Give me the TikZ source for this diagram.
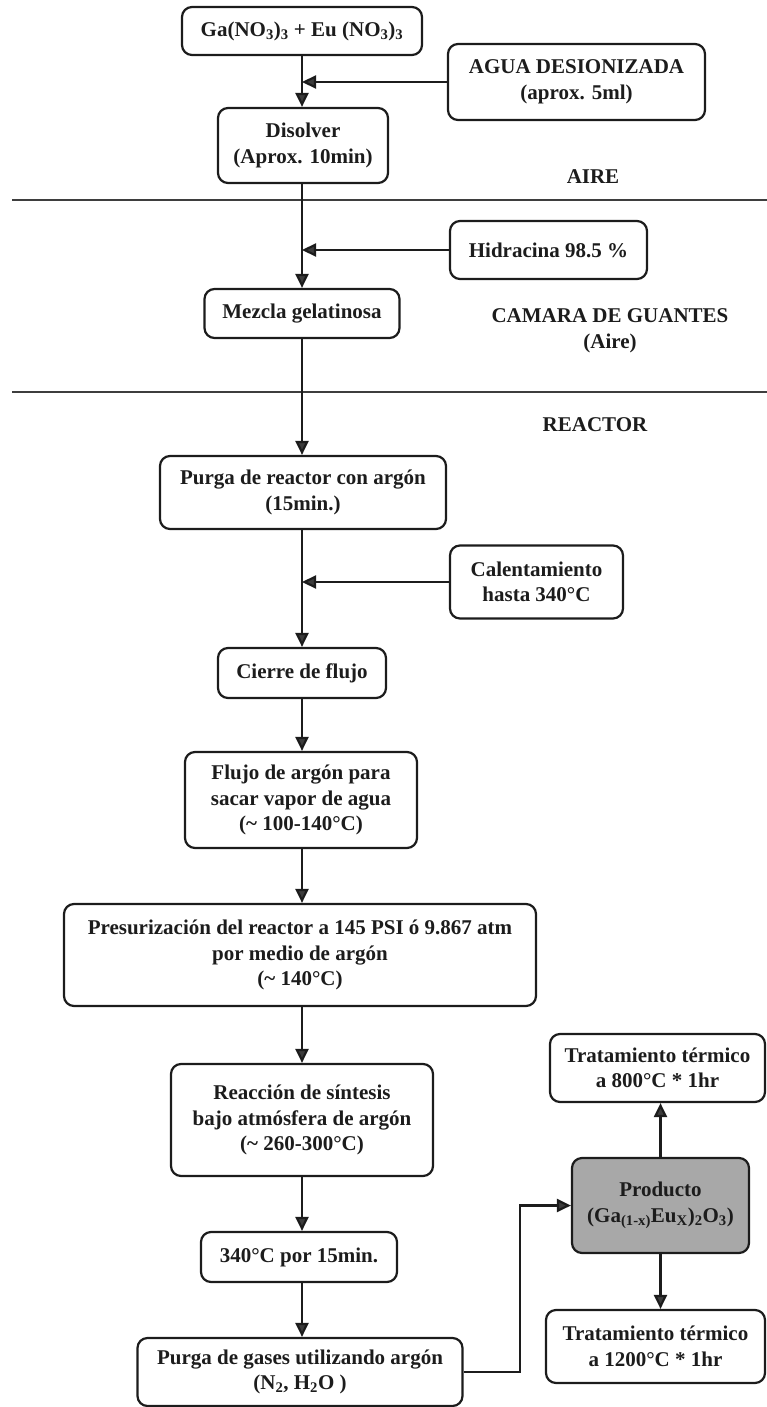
\documentclass[tikz,border=0pt]{standalone}
\usepackage{fontspec}
\setmainfont{Liberation Serif}
\usetikzlibrary{arrows.meta}
\definecolor{ink}{RGB}{28,28,28}
\definecolor{tipgray}{RGB}{60,60,60}
\definecolor{prodfill}{RGB}{168,168,168}
\begin{document}
\begin{tikzpicture}[x=1pt,y=-1pt,
  every node/.style={font=\fontsize{21}{25.5}\selectfont\bfseries, text=ink},
  stepbox/.style={draw=ink, line width=2.2pt, rounded corners=10pt, align=center, inner sep=2pt},
  zone/.style={align=center},
  arr/.style={draw=ink, line width=2.2pt, -{Triangle[length=14pt,width=13pt,fill=tipgray]}},
  sep/.style={draw=ink!85, line width=2.4pt}]
\useasboundingbox (0,0) rectangle (767,1407);

% zone separators
\draw[sep] (12,200) -- (767,200);
\draw[sep] (12,392) -- (767,392);

% zone labels
\node[zone] (lblaire) at (593,177) {AIRE};
\node[zone] (lblcamara) at (610,331) {CAMARA DE GUANTES\\(Aire)};
\node[zone] (lblreactor) at (595,425) {REACTOR};

% main column
\node[stepbox, minimum width=240pt, minimum height=48pt] (ga) at (302,31)
  {Ga(NO\textsubscript{3})\textsubscript{3} + Eu (NO\textsubscript{3})\textsubscript{3}};
\node[stepbox, minimum width=170pt, minimum height=75pt] (dis) at (303,145.5)
  {Disolver\\(Aprox. 10min)};
\node[stepbox, minimum width=195pt, minimum height=49pt] (mez) at (302,313.5)
  {Mezcla gelatinosa};
\node[stepbox, minimum width=286pt, minimum height=73pt] (purga) at (303,492.5)
  {Purga de reactor con argón\\(15min.)};
\node[stepbox, minimum width=168pt, minimum height=50pt] (cierre) at (302,673)
  {Cierre de flujo};
\node[stepbox, minimum width=232pt, minimum height=96pt] (flujo) at (301,800)
  {Flujo de argón para\\sacar vapor de agua\\(\textasciitilde{} 100-140°C)};
\node[stepbox, minimum width=472pt, minimum height=102pt] (pres) at (300,955)
  {Presurización del reactor a 145 PSI ó 9.867 atm\\por medio de argón\\(\textasciitilde{} 140°C)};
\node[stepbox, minimum width=262pt, minimum height=112pt] (reac) at (302,1120)
  {Reacción de síntesis\\bajo atmósfera de argón\\(\textasciitilde{} 260-300°C)};
\node[stepbox, minimum width=196pt, minimum height=50pt] (c340) at (299,1257)
  {340°C por 15min.};
\node[stepbox, minimum width=325pt, minimum height=68pt] (purgagas) at (300,1372)
  {Purga de gases utilizando argón\\(N\textsubscript{2}, H\textsubscript{2}O )};

% side inputs
\node[stepbox, minimum width=257pt, minimum height=76pt] (agua) at (576.5,82)
  {AGUA DESIONIZADA\\(aprox. 5ml)};
\node[stepbox, minimum width=197pt, minimum height=58pt] (hid) at (548.5,250)
  {Hidracina 98.5 \%};
\node[stepbox, minimum width=173pt, minimum height=73pt] (cal) at (536.5,582)
  {Calentamiento\\hasta 340°C};

% product and heat treatments
\node[stepbox, fill=prodfill, minimum width=177pt, minimum height=95pt] (prod) at (660.5,1205.5)
  {Producto\\(Ga\textsubscript{(1-x)}Eu\textsubscript{X})\textsubscript{2}O\textsubscript{3})};
\node[stepbox, minimum width=215pt, minimum height=68pt] (t800) at (657.5,1068)
  {Tratamiento térmico\\a 800°C * 1hr};
\node[stepbox, minimum width=219pt, minimum height=73pt] (t1200) at (655.5,1346.5)
  {Tratamiento térmico\\a 1200°C * 1hr};

% main flow
\draw[arr] (ga.south) -- (ga.south |- dis.north);
\draw[arr] (dis.south -| ga.south) -- (ga.south |- mez.north);
\draw[arr] (mez.south) -- (mez.south |- purga.north);
\draw[arr] (purga.south -| mez.south) -- (mez.south |- cierre.north);
\draw[arr] (cierre.south) -- (cierre.south |- flujo.north);
\draw[arr] (flujo.south -| cierre.south) -- (cierre.south |- pres.north);
\draw[arr] (pres.south -| cierre.south) -- (cierre.south |- reac.north);
\draw[arr] (reac.south) -- (reac.south |- c340.north);
\draw[arr] (c340.south -| reac.south) -- (reac.south |- purgagas.north);

% inputs joining the main line
\draw[arr] (agua.west) -- (agua.west -| ga.south);
\draw[arr] (hid.west) -- (hid.west -| ga.south);
\draw[arr] (cal.west) -- (cal.west -| mez.south);

% to the product and its treatments
\draw[arr] (purgagas.east) -- ++(56,0) |- (prod.west);
\draw[arr] (prod.north) -- (prod.north |- t800.south);
\draw[arr] (prod.south) -- (prod.south |- t1200.north);
\end{tikzpicture}
\end{document}
